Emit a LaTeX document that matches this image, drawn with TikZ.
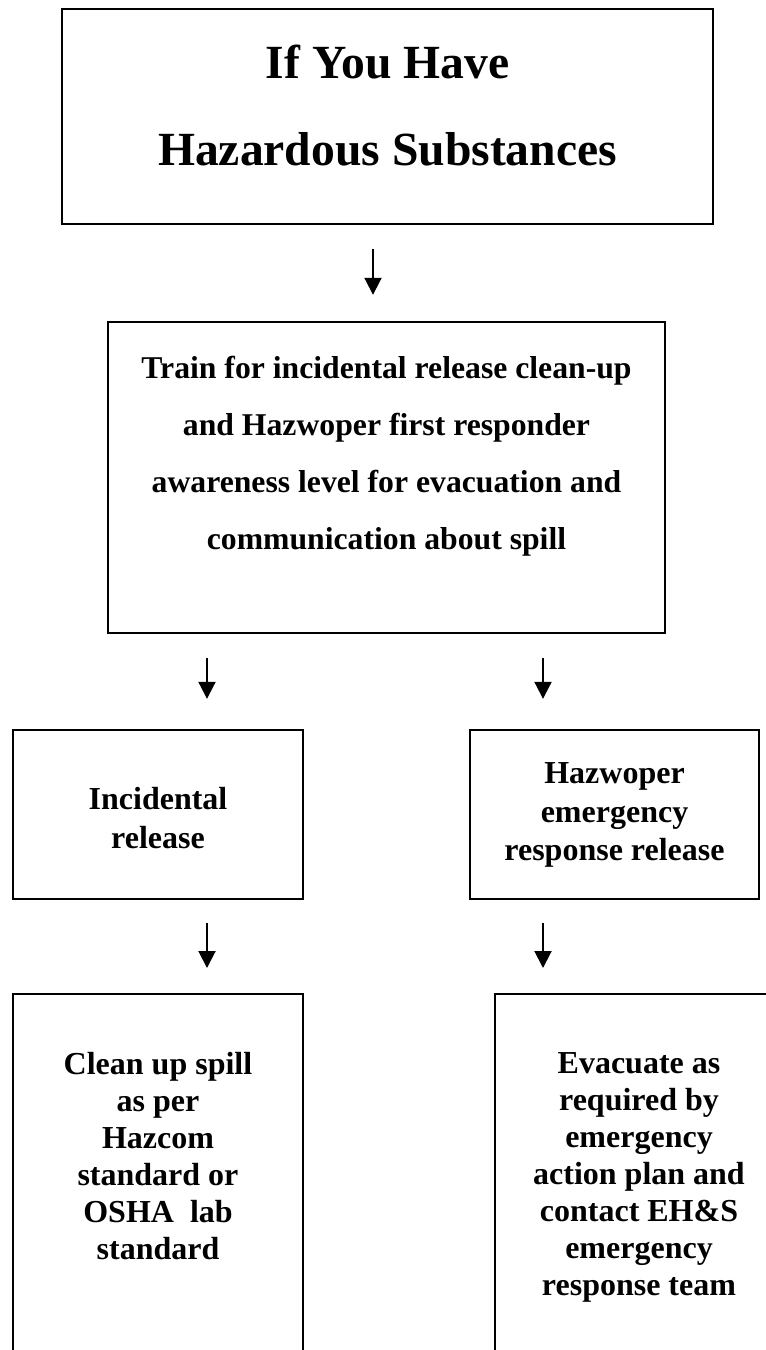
\documentclass[tikz,border=0pt]{standalone}
\usepackage{fontspec}
\setmainfont{Liberation Serif}
\usetikzlibrary{arrows.meta}

\begin{document}
\begin{tikzpicture}[x=1pt,y=-1pt,
  box/.style={draw, line width=2.4pt, rectangle, inner sep=0pt},
  txt/.style={align=center, font=\bfseries\fontsize{32}{37}\selectfont},
  flow/.style={-{Triangle[width=17pt,length=17pt]}, line width=2pt, shorten <=24pt, shorten >=26pt}]
\useasboundingbox (0,0) rectangle (766,1350);
\clip (0,0) rectangle (766,1350); % bottom boxes run off the page

\node[box, minimum width=651pt, minimum height=215pt] (top) at (387.5,116.5) {};
\node[txt, font=\bfseries\fontsize{47.6}{87}\selectfont] (toptxt) at (387.5,106) {If You Have\\Hazardous Substances};

\node[box, minimum width=557pt, minimum height=311pt] (train) at (386.5,477.5) {};
\node[txt, font=\bfseries\fontsize{31.7}{57}\selectfont] (traintxt) at (386.5,456) {Train for incidental release clean-up\\and Hazwoper first responder\\awareness level for evacuation and\\communication about spill};

\draw[flow] (top.south -| 373,0) -- (train.north -| 373,0);

% two cases
\node[box, minimum width=290pt, minimum height=169pt] (inc) at (158,814.5) {};
\node[txt, font=\bfseries\fontsize{32}{39}\selectfont] (inctxt) at (158,818) {Incidental\\release};

\node[box, minimum width=289pt, minimum height=169pt] (hazr) at (614.5,814.5) {};
\node[txt, font=\bfseries\fontsize{32}{38.5}\selectfont] (hazrtxt) at (614.5,815) {Hazwoper\\emergency\\response release};

\draw[flow, shorten >=30pt] (train.south -| 207,0) -- (inc.north -| 207,0);
\draw[flow, shorten >=30pt] (train.south -| 543,0) -- (hazr.north -| 543,0);

% what to do
\node[box, minimum width=290pt, minimum height=420pt, anchor=north] (clean) at (158,993) {};
\node[txt] (cleantxt) at (158,1156) {Clean up spill\\as per\\Hazcom\\standard or\\OSHA\ \ lab\\standard};

\node[box, minimum width=288pt, minimum height=420pt, anchor=north] (evac) at (639,993) {};
\node[txt] (evactxt) at (639,1177) {Evacuate as\\required by\\emergency\\action plan and\\contact EH\&S\\emergency\\response team};

\draw[flow, shorten <=23pt, shorten >=25pt] (inc.south -| 207,0) -- (clean.north -| 207,0);
\draw[flow, shorten <=23pt, shorten >=25pt] (hazr.south -| 543,0) -- (evac.north -| 543,0);
\end{tikzpicture}
\end{document}
